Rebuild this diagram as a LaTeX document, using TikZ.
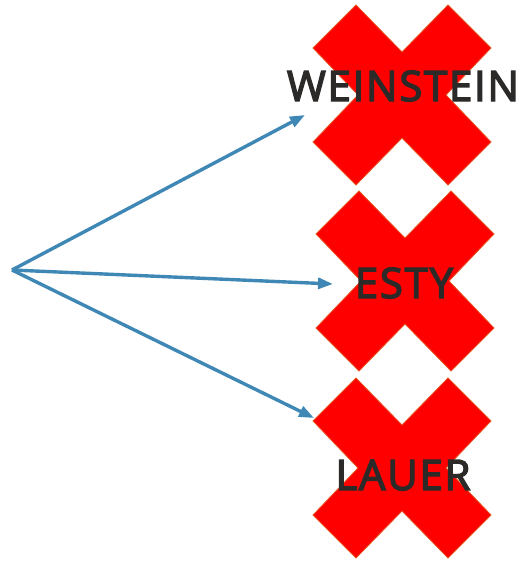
\documentclass[tikz,border=0pt]{standalone}
\usepackage{fontspec}
\setmainfont{Open Sans}
\newfontfamily\labfont[FakeBold=3.3,LetterSpace=4]{Open Sans}
\usetikzlibrary{arrows.meta}
\definecolor{xred}{HTML}{FF0000}
\definecolor{xedge}{HTML}{E8501E}
\definecolor{arrowblue}{HTML}{3F88B5}
\definecolor{txt}{HTML}{2B2A28}
\tikzset{
  crossshape/.style={fill=xred,draw=xedge,line width=0.8pt,line join=miter},
  label/.style={font=\labfont\fontsize{42}{42}\selectfont,text=txt,inner sep=0pt,anchor=base},
  link/.style={draw=arrowblue,line width=3.4pt,-{Triangle[length=15pt,width=11pt]}}
}
\newcommand{\xcross}[1]{%
  \path[crossshape,shift={(#1)}]
    (-46,-90) -- (0,-43) -- (46,-90) -- (89,-47) -- (44,0) -- (89,47)
    -- (46,90) -- (0,43) -- (-46,90) -- (-89,47) -- (-44,0) -- (-89,-47) -- cycle;}
\begin{document}
\begin{tikzpicture}[x=1pt,y=-1pt]
\useasboundingbox (0,0) rectangle (518,562);
\coordinate (c1) at (402,95);
\coordinate (c2) at (405,281);
\coordinate (c3) at (402,468);
\xcross{c1}
\xcross{c2}
\xcross{c3}
\node[label] (t1) at (403,101) {WEINSTEIN};
\node[label] (t2) at (404,298) {ESTY};
\node[label] (t3) at (403,490) {LAUER};
\coordinate (o) at (12,270);
\coordinate (e1) at (305,115);
\coordinate (e2) at (333,284);
\coordinate (e3) at (314,418);
\draw[link] (o) -- (e1);
\draw[link] (o) -- (e2);
\draw[link] (o) -- (e3);
\end{tikzpicture}
\end{document}
